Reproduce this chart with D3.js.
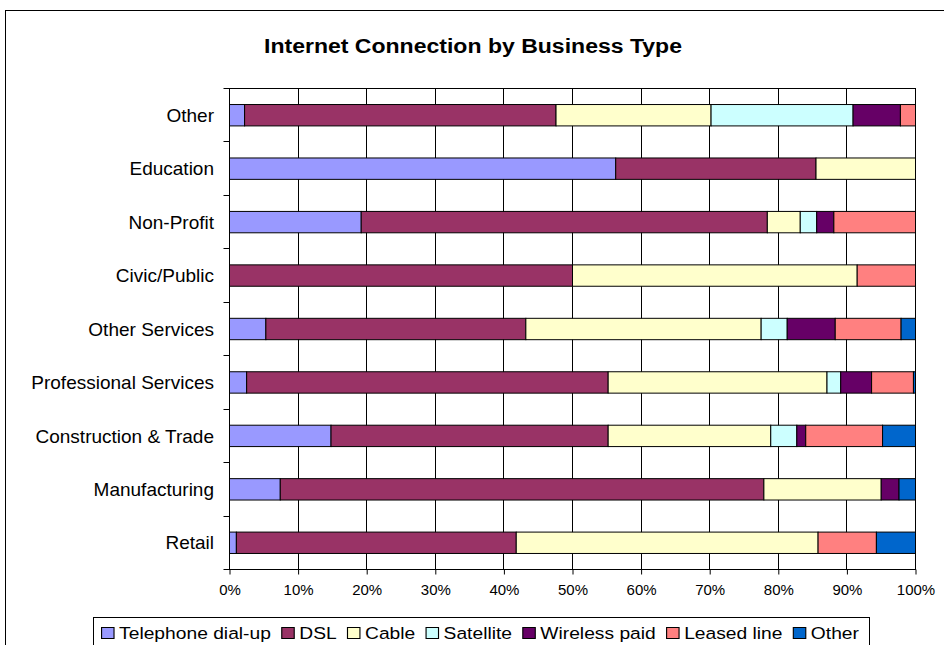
<!DOCTYPE html>
<html>
<head>
<meta charset="utf-8">
<script src="https://cdn.jsdelivr.net/npm/d3@7"></script>
<style>
  html, body { margin: 0; padding: 0; background: #fff; }
  svg { display: block; font-family: "Liberation Sans", Arial, sans-serif; }
</style>
</head>
<body>
<svg id="chart" width="944" height="645"></svg>
<script>
// Business types, top to bottom
const categories = ["Other", "Education", "Non-Profit", "Civic/Public", "Other Services",
  "Professional Services", "Construction & Trade", "Manufacturing", "Retail"];

// Connection types (stack order, left to right)
const seriesNames = ["Telephone dial-up", "DSL", "Cable", "Satellite", "Wireless paid", "Leased line", "Other"];
const seriesColors = ["#9999FF", "#993366", "#FFFFCC", "#CCFFFF", "#660066", "#FF8080", "#0066CC"];

// Share of businesses (%) per connection type, one array per series, in category order
const dialUp   = [2.2, 56.3, 19.2, 0,    5.3,  2.5,  14.8, 7.4,  1.0];
const dsl      = [45.4, 29.2, 59.2, 50.0, 37.9, 52.7, 40.4, 70.5, 40.8];
const cable    = [22.6, 14.5, 4.8,  41.5, 34.3, 31.9, 23.7, 17.1, 44.0];
const satellite= [20.7, 0,    2.4,  0,    3.8,  2.0,  3.8,  0,    0];
const wireless = [6.9,  0,    2.5,  0,    7.0,  4.5,  1.3,  2.6,  0];
const leased   = [2.2,  0,    11.9, 8.5,  9.6,  6.1,  11.2, 0,    8.5];
const otherConn= [0,    0,    0,    0,    2.1,  0.3,  4.8,  2.4,  5.7];

const xTicks = [0, 10, 20, 30, 40, 50, 60, 70, 80, 90, 100];
const title = "Internet Connection by Business Type";

const seriesValues = [dialUp, dsl, cable, satellite, wireless, leased, otherConn];
const rows = categories.map((c, i) => {
  const r = { category: c };
  seriesNames.forEach((s, j) => { r[s] = seriesValues[j][i]; });
  return r;
});

const svg = d3.select("#chart");
const plot = { left: 229.5, right: 915.5, top: 88.5, bottom: 569.5 };

// Outer chart frame
svg.append("rect")
  .attr("x", 5.5).attr("y", 10.5).attr("width", 960).attr("height", 660)
  .attr("fill", "#fff").attr("stroke", "#000").attr("stroke-width", 1);

svg.append("text")
  .attr("x", 473).attr("y", 53)
  .attr("text-anchor", "middle")
  .attr("font-size", 20).attr("font-weight", "bold")
  .attr("textLength", 418).attr("lengthAdjust", "spacingAndGlyphs")
  .text(title);

const x = d3.scaleLinear().domain([0, 100]).range([plot.left, plot.right]);
const y = d3.scaleBand().domain(categories).range([plot.top, plot.bottom]).paddingInner(0.6).paddingOuter(0.3);

// Vertical gridlines
svg.append("g")
  .selectAll("line")
  .data(xTicks)
  .join("line")
  .attr("x1", d => Math.round(x(d) - 0.5) + 0.5)
  .attr("x2", d => Math.round(x(d) - 0.5) + 0.5)
  .attr("y1", plot.top).attr("y2", plot.bottom)
  .attr("stroke", "#000").attr("stroke-width", 1);

// Plot frame
svg.append("rect")
  .attr("x", plot.left).attr("y", plot.top)
  .attr("width", plot.right - plot.left).attr("height", plot.bottom - plot.top)
  .attr("fill", "none").attr("stroke", "#000").attr("stroke-width", 1);

// Stacked bars
const stack = d3.stack().keys(seriesNames)(rows);
svg.append("g")
  .selectAll("g")
  .data(stack)
  .join("g")
  .attr("fill", (d, i) => seriesColors[i])
  .selectAll("rect")
  .data(d => d.filter(p => p[1] - p[0] > 0))
  .join("rect")
  .attr("x", d => x(d[0]))
  .attr("width", d => x(d[1]) - x(d[0]))
  .attr("y", d => y(d.data.category))
  .attr("height", y.bandwidth())
  .attr("stroke", "#000").attr("stroke-width", 1);

// Category axis
const yBoundary = d3.scaleLinear().domain([0, categories.length]).range([plot.top, plot.bottom]);
const yAxis = svg.append("g");
yAxis.append("line")
  .attr("x1", plot.left).attr("x2", plot.left)
  .attr("y1", plot.top).attr("y2", plot.bottom)
  .attr("stroke", "#000");
yAxis.selectAll("line.tick")
  .data(d3.range(categories.length + 1))
  .join("line").attr("class", "tick")
  .attr("x1", plot.left - 6).attr("x2", plot.left)
  .attr("y1", d => Math.round(yBoundary(d) - 0.5) + 0.5)
  .attr("y2", d => Math.round(yBoundary(d) - 0.5) + 0.5)
  .attr("stroke", "#000");
yAxis.selectAll("text")
  .data(categories)
  .join("text")
  .attr("x", 214)
  .attr("y", d => y(d) + y.bandwidth() / 2)
  .attr("dy", "0.35em")
  .attr("text-anchor", "end")
  .attr("font-size", 19)
  .text(d => d);

// Percentage axis
const xAxis = svg.append("g")
  .attr("transform", `translate(0,${plot.bottom})`)
  .call(d3.axisBottom(x).tickValues(xTicks).tickSize(5).tickPadding(10).tickFormat(d => d + "%"));
xAxis.select(".domain").remove();
xAxis.selectAll(".tick line").attr("stroke", "#000");
xAxis.selectAll(".tick text")
  .attr("font-size", 15)
  .attr("font-family", "Liberation Sans, Arial, sans-serif")
  .attr("fill", "#000");

// Legend: items laid out in a row, then widened to fill the frame
const legend = svg.append("g");
legend.append("rect")
  .attr("x", 93.5).attr("y", 617.5).attr("width", 776).attr("height", 40)
  .attr("fill", "#fff").attr("stroke", "#000");
const legendStart = 101, legendEnd = 859;
const items = legend.append("g");
let lx = legendStart;
seriesNames.forEach((name, i) => {
  items.append("rect")
    .attr("x", lx + 0.5).attr("y", 627.5).attr("width", 11).attr("height", 11)
    .attr("fill", seriesColors[i]).attr("stroke", "#000");
  const t = items.append("text")
    .attr("x", lx + 16).attr("y", 639.5)
    .attr("font-size", 17)
    .text(name);
  lx += 16 + t.node().getComputedTextLength() + (i < seriesNames.length - 1 ? 9 : 0);
});
const stretch = (legendEnd - legendStart) / (lx - legendStart);
items.attr("transform", `translate(${legendStart},0) scale(${stretch},1) translate(${-legendStart},0)`);
</script>
</body>
</html>
